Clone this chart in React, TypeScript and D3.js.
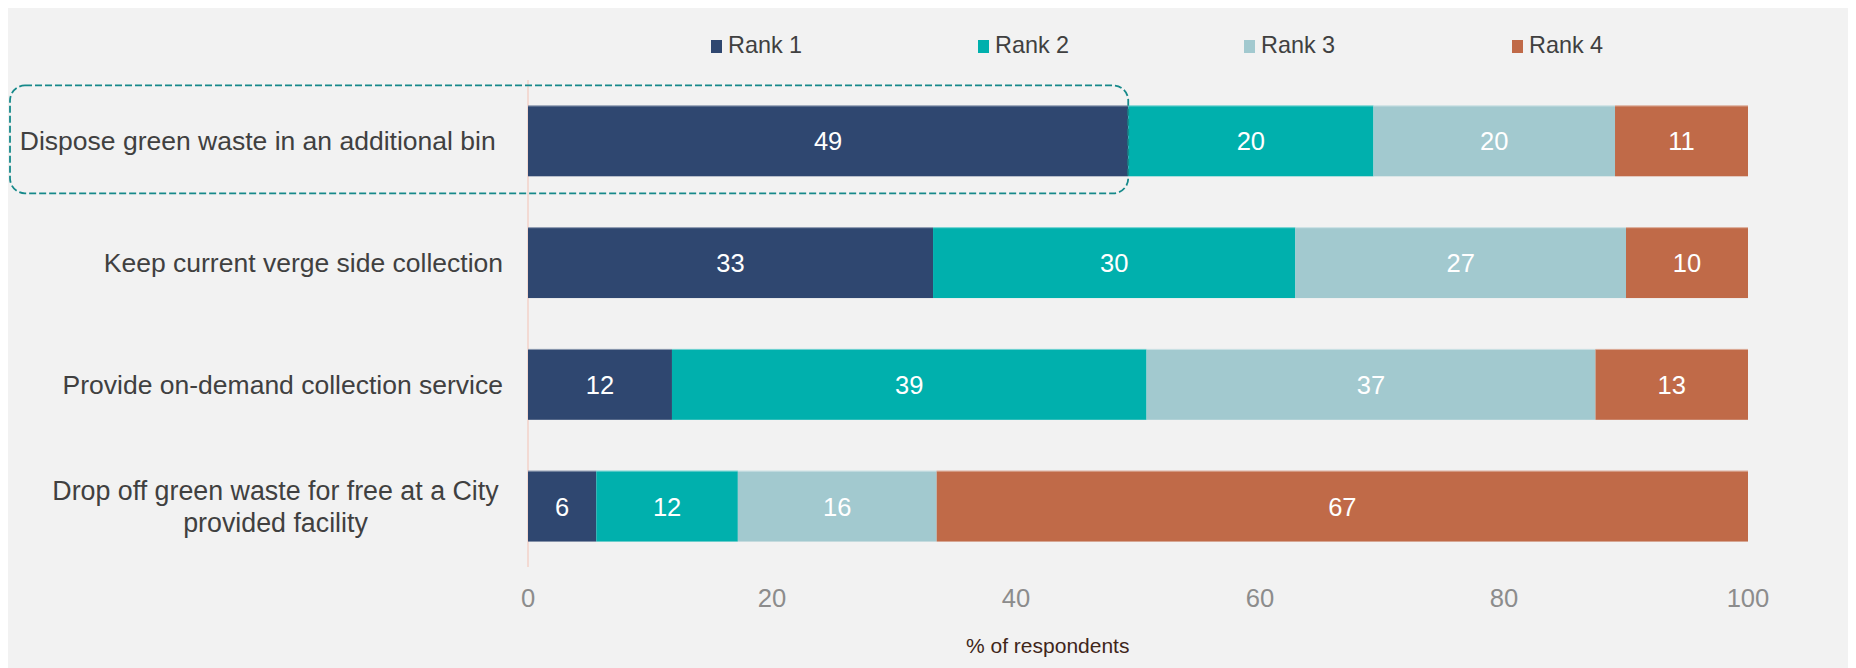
import React from "react";
import * as d3 from "d3";

const categories = [
  "Dispose green waste in an additional bin",
  "Keep current verge side collection",
  "Provide on-demand collection service",
  "Drop off green waste for free at a City provided facility",
];
const categoryLines = [
  ["Dispose green waste in an additional bin\u00a0"],
  ["Keep current verge side collection"],
  ["Provide on-demand collection service"],
  ["Drop off green waste for free at a City", "provided facility"],
];
const seriesNames = ["Rank 1", "Rank 2", "Rank 3", "Rank 4"];
const rank1 = [49.2, 33.2, 11.8, 5.6];
const rank2 = [20.1, 29.7, 38.9, 11.6];
const rank3 = [19.8, 27.1, 36.8, 16.3];
const rank4 = [10.9, 10.0, 12.5, 66.5];
const xTicks = [0, 20, 40, 60, 80, 100];
const colors = ["#2f4770", "#00b0ad", "#a2c9cf", "#c06a48"];

const W = 1840;
const H = 660;

export default function App() {
  const x = d3.scaleLinear().domain([0, 100]).range([520, 1740]);
  const y = d3
    .scaleBand<string>()
    .domain(categories)
    .range([72, 559])
    .paddingInner(0.418)
    .paddingOuter(0.209);

  const rows = categories.map((c, i) => ({
    cat: c,
    r0: rank1[i],
    r1: rank2[i],
    r2: rank3[i],
    r3: rank4[i],
  }));
  const stack = d3.stack<any>().keys(["r0", "r1", "r2", "r3"]);
  const series = stack(rows);
  const bw = y.bandwidth();

  const legendX = [703, 970, 1236, 1504];

  const firstTop = y(categories[0])!;
  const boxX = 2;
  const boxRight = x(rank1[0]);

  return (
    <svg width={W} height={H} style={{ display: "block" }} fontFamily="'Liberation Sans', Arial, sans-serif">
      <rect x={0} y={0} width={W} height={H} fill="#f2f2f2" />
      {/* legend */}
      {seriesNames.map((s, i) => (
        <g key={s}>
          <rect x={legendX[i]} y={32} width={11} height={13} fill={colors[i]} />
          <text x={legendX[i] + 17} y={44.5} fontSize={23.4} fill="#404040">
            {s}
          </text>
        </g>
      ))}
      {/* axis line at zero */}
      <line x1={x(0)} x2={x(0)} y1={72} y2={559} stroke="#f3d2c8" strokeWidth={1.5} />
      {/* bars */}
      {series.map((ser, si) => (
        <g key={si}>
          {ser.map((d, i) => {
            const x0 = x(d[0]);
            const x1 = x(d[1]);
            const yy = y(categories[i])!;
            return (
              <g key={i}>
                <rect x={x0} y={yy} width={x1 - x0} height={bw} fill={colors[si]} />
                <line x1={x0} x2={x1} y1={yy + 0.5} y2={yy + 0.5} stroke="#ffffff" strokeOpacity={0.45} strokeWidth={1} />
                <text
                  x={(x0 + x1) / 2}
                  y={yy + bw / 2 + 9.5}
                  textAnchor="middle"
                  fontSize={25.5}
                  fill="#ffffff"
                >
                  {Math.round(d[1] - d[0])}
                </text>
              </g>
            );
          })}
        </g>
      ))}
      {/* category labels */}
      {categories.map((c, i) => {
        const lines = categoryLines[i];
        const cy = y(c)! + bw / 2;
        if (lines.length === 1) {
          return (
            <text
              key={c}
              x={495}
              y={cy + 9.5}
              textAnchor="end"
              fontSize={26.5}
              fill="#404040"
              style={{ whiteSpace: "pre" }}
            >
              {lines[0]}
            </text>
          );
        }
        return (
          <text key={c} textAnchor="middle" fontSize={26.8} fill="#404040">
            {lines.map((l, li) => (
              <tspan key={li} x={267.5} y={cy - 16 + li * 32 + 10}>
                {l}
              </tspan>
            ))}
          </text>
        );
      })}
      {/* x tick labels */}
      {xTicks.map((t) => (
        <text key={t} x={x(t)} y={599} textAnchor="middle" fontSize={25.6} fill="#8c8c8c">
          {t}
        </text>
      ))}
      <text x={958} y={645} fontSize={21} fill="#40261a">
        % of respondents
      </text>
      {/* highlight box */}
      <rect
        x={boxX}
        y={firstTop - 20}
        width={boxRight - boxX}
        height={bw + 37}
        rx={15}
        ry={15}
        fill="none"
        stroke="#16898a"
        strokeWidth={1.8}
        strokeDasharray="7 3"
      />
    </svg>
  );
}
